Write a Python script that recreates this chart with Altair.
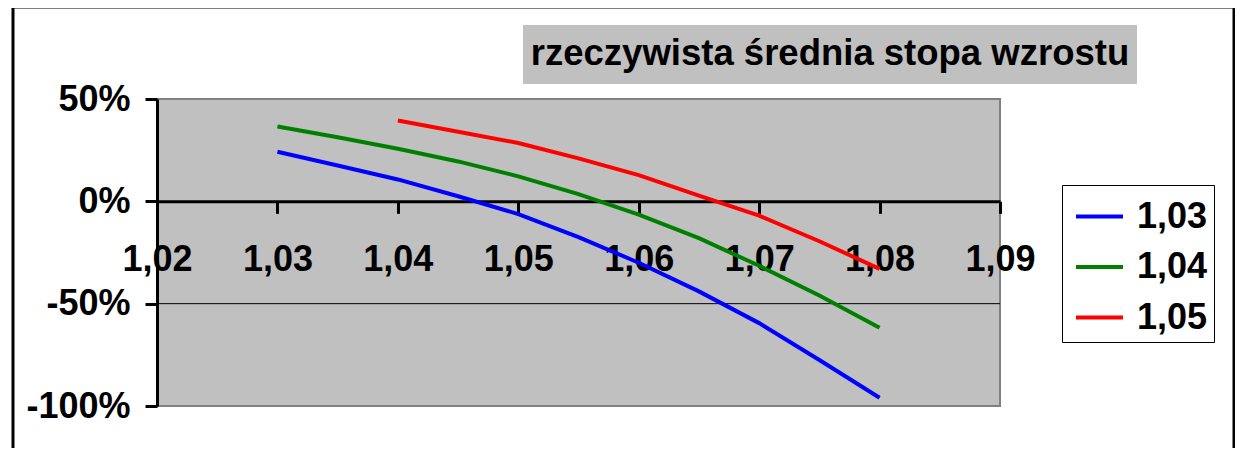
import altair as alt
import pandas as pd

# ---- data ----
series_labels = ["1,03", "1,04", "1,05"]
series_colors = ["#0000ff", "#008000", "#ff0000"]

x_103 = [1.030, 1.035, 1.040, 1.045, 1.050, 1.055, 1.060, 1.065, 1.070, 1.075, 1.080]
y_103 = [24.2, 17.5, 10.7, 2.5, -6.2, -17.5, -30.0, -44.0, -59.5, -77.5, -96.0]

x_104 = [1.030, 1.035, 1.040, 1.045, 1.050, 1.055, 1.060, 1.065, 1.070, 1.075, 1.080]
y_104 = [36.6, 31.3, 25.7, 19.5, 12.2, 3.5, -6.5, -18.0, -31.5, -46.0, -61.8]

x_105 = [1.040, 1.045, 1.050, 1.055, 1.060, 1.065, 1.070, 1.075, 1.080]
y_105 = [39.5, 34.0, 28.5, 21.0, 12.8, 2.8, -7.0, -19.5, -33.0]

x_ticks = [1.02, 1.03, 1.04, 1.05, 1.06, 1.07, 1.08, 1.09]
y_ticks = [-100, -50, 0, 50]
grid_values = [-50]
title_text = "rzeczywista średnia stopa wzrostu"

rows = []
for lab, xs, ys in zip(series_labels, [x_103, x_104, x_105], [y_103, y_104, y_105]):
    for xv, yv in zip(xs, ys):
        rows.append({"x": xv, "y": yv, "series": lab})
df = pd.DataFrame(rows)
grid_df = pd.DataFrame({"y": grid_values})

FONT = "Liberation Sans"
W, H = 843, 307
Y_MIN, Y_MAX = -100, 50
zero_offset = -(H - H * (Y_MAX - 0) / (Y_MAX - Y_MIN))

x_scale = alt.Scale(domain=[1.02, 1.09], nice=False, zero=False)
y_scale = alt.Scale(domain=[Y_MIN, Y_MAX], nice=False, zero=False)

x_axis = alt.Axis(
    values=x_ticks,
    labelExpr="replace(format(datum.value, '.2f'), '.', ',')",
    offset=zero_offset,
    title=None, grid=False,
    domainColor="black", domainWidth=3,
    tickColor="black", tickWidth=3, tickSize=12,
    labelFont=FONT, labelFontSize=36, labelFontWeight="bold", labelColor="black",
    labelPadding=29, labelFlush=False, labelOverlap=False,
)
y_axis = alt.Axis(
    values=y_ticks,
    labelExpr="datum.value + '%'",
    title=None, grid=False,
    domainColor="black", domainWidth=3,
    tickColor="black", tickWidth=3, tickSize=12,
    labelFont=FONT, labelFontSize=36, labelFontWeight="bold", labelColor="black",
    labelPadding=15, labelFlush=False, labelOverlap=False,
)

one = alt.Data(values=[{"k": 1}])

frame = alt.Chart(one).mark_rect(filled=False, stroke="black", strokeWidth=3).encode(
    x=alt.value(-144), x2=alt.value(1077), y=alt.value(-92), y2=alt.value(420)
)
title_box = alt.Chart(one).mark_rect(fill="#c0c0c0", stroke=None).encode(
    x=alt.value(366), x2=alt.value(980), y=alt.value(-74), y2=alt.value(-15)
)
title = alt.Chart(one).mark_text(
    text=title_text, font=FONT, fontSize=36.5, fontWeight="bold", color="black",
    align="center", baseline="alphabetic",
).encode(x=alt.value(673), y=alt.value(-34))

grid = alt.Chart(grid_df).mark_rule(color="black", strokeWidth=1).encode(
    y=alt.Y("y:Q", scale=y_scale, axis=y_axis)
)

lines = alt.Chart(df).mark_line(strokeWidth=4).encode(
    x=alt.X("x:Q", scale=x_scale, axis=x_axis),
    y=alt.Y("y:Q", scale=y_scale, axis=y_axis),
    color=alt.Color(
        "series:N",
        scale=alt.Scale(domain=series_labels, range=series_colors),
        legend=alt.Legend(
            orient="none", legendX=905, legendY=86, title=None,
            strokeColor="black", fillColor="white", padding=6,
            symbolType="stroke", symbolStrokeWidth=4, symbolSize=2209,
            symbolOffset=6,
            labelFont=FONT, labelFontSize=36, labelFontWeight="bold", labelColor="black",
            rowPadding=6.5, labelOffset=12,
        ),
    ),
)

chart = alt.layer(frame, title_box, title, grid, lines).properties(
    width=W, height=H,
    autosize=alt.AutoSizeParams(type="none"),
    padding={"left": 149, "top": 91, "right": 235, "bottom": 42},
    background="white",
).configure_view(fill="#c0c0c0", stroke="#808080", strokeWidth=2)

chart.save("out.html", embed_options={"renderer": "svg", "actions": False})
